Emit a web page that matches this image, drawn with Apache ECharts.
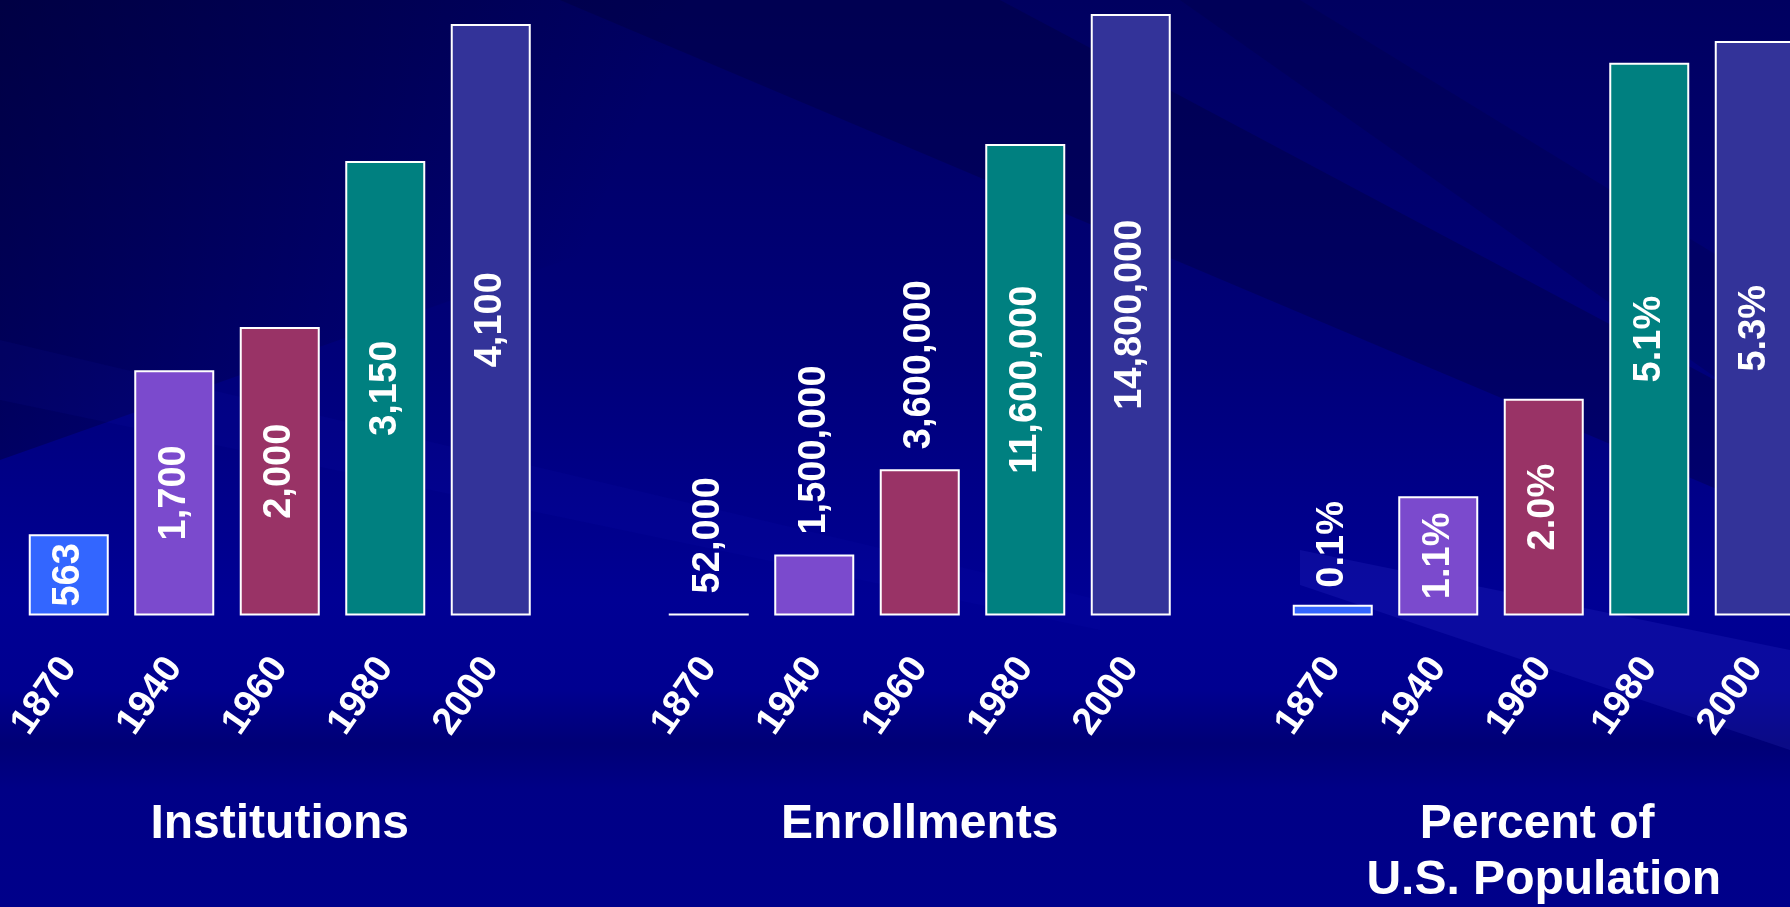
<!DOCTYPE html>
<html>
<head>
<meta charset="utf-8">
<title>Higher education 1870-2000</title>
<script src="https://cdn.jsdelivr.net/npm/echarts@6/dist/echarts.min.js"></script>
<style>
  html, body { margin: 0; padding: 0; overflow: hidden; background: #000080; }
  #main { width: 1790px; height: 907px; }
</style>
</head>
<body>
<div id="main"></div>
<script>
var years = ['1870', '1940', '1960', '1980', '2000'];
var institutions = [563, 1700, 2000, 3150, 4100];
var enrollments = [52000, 1500000, 3600000, 11600000, 14800000];
var percentOfPop = [0.1, 1.1, 2.0, 5.1, 5.3];
var panelTitles = ['Institutions', 'Enrollments', 'Percent of \nU.S. Population'];

var yearColors = ['#3366FF', '#7B4ACD', '#993366', '#008080', '#333399'];
// bars whose value label sits above the bar instead of inside it
var labelsAbove = [[], [0, 1, 2], [0]];

var font = '"Liberation Sans", Arial, sans-serif';
var baseY = 615.5;
var panelWidth = 527.5;

var panels = [
  { values: institutions, left: 16, top: 24, gap: 20,
    fmt: function (v) { return v.toLocaleString('en-US'); } },
  { values: enrollments, left: 656, top: 14, gap: 20,
    fmt: function (v) { return v.toLocaleString('en-US'); } },
  { values: percentOfPop, left: 1280, top: 41, gap: 17,
    fmt: function (v) { return v.toFixed(1) + '%'; } }
];

var myChart = echarts.init(document.getElementById('main'));

myChart.setOption({
  backgroundColor: '#000080',
  animation: false,
  graphic: {
    elements: [
      {
        type: 'rect', z: -10, silent: true,
        shape: { x: 0, y: 0, width: 1790, height: 907 },
        style: {
          fill: {
            type: 'linear', x: 0, y: 0, x2: 0, y2: 1,
            colorStops: [
              { offset: 0, color: '#000060' },
              { offset: 0.4, color: '#00007a' },
              { offset: 0.66, color: '#000094' },
              { offset: 0.76, color: '#000090' },
              { offset: 0.82, color: '#000076' },
              { offset: 0.87, color: '#000086' },
              { offset: 1, color: '#00008a' }
            ]
          }
        }
      },
      {
        type: 'polygon', z: -9, silent: true,
        shape: { points: [[0, 0], [1300, 0], [0, 460]] },
        style: {
          fill: {
            type: 'linear', x: 0, y: 0, x2: 0.45, y2: 0.55,
            colorStops: [
              { offset: 0, color: 'rgba(0,0,40,0.5)' },
              { offset: 1, color: 'rgba(0,0,40,0)' }
            ]
          }
        }
      },
      {
        type: 'polygon', z: -9, silent: true,
        shape: { points: [[560, 0], [1000, 0], [1790, 420], [1790, 520]] },
        style: { fill: 'rgba(0,0,50,0.3)' }
      },
      {
        type: 'polygon', z: -9, silent: true,
        shape: { points: [[1180, 0], [1300, 0], [1790, 300], [1790, 430]] },
        style: { fill: 'rgba(0,0,60,0.22)' }
      },
      {
        type: 'polygon', z: -9, silent: true,
        shape: { points: [[0, 340], [0, 400], [1100, 630], [1100, 600]] },
        style: { fill: 'rgba(20,20,200,0.08)' }
      },
      {
        type: 'polygon', z: -9, silent: true,
        shape: { points: [[1300, 550], [1790, 650], [1790, 750], [1300, 585]] },
        style: { fill: 'rgba(90,90,255,0.12)' }
      }
    ]
  },
  title: panels.map(function (p, i) {
    return {
      text: panelTitles[i],
      left: p.left + panelWidth / 2,
      top: 797,
      textAlign: 'center',
      padding: 0,
      textStyle: {
        color: '#ffffff', fontSize: 48, fontWeight: 'bold',
        fontFamily: font, lineHeight: 56
      }
    };
  }),
  grid: panels.map(function (p) {
    return {
      left: p.left, top: p.top, width: panelWidth, height: baseY - p.top,
      outerBoundsMode: 'none', containLabel: false
    };
  }),
  xAxis: panels.map(function (p, i) {
    return {
      type: 'category', gridIndex: i, data: years,
      axisLine: { show: false }, axisTick: { show: false },
      axisLabel: {
        interval: 0, rotate: 55, margin: 46, color: '#ffffff',
        fontSize: 38, fontWeight: 'bold', fontFamily: font
      }
    };
  }),
  yAxis: panels.map(function (p, i) {
    return { type: 'value', gridIndex: i, min: 0, max: 'dataMax', show: false };
  }),
  series: panels.map(function (p, i) {
    return {
      type: 'bar', xAxisIndex: i, yAxisIndex: i, barWidth: 80,
      itemStyle: { borderColor: '#ffffff', borderWidth: 2 },
      label: {
        show: true, rotate: 90, color: '#ffffff', fontSize: 38,
        fontWeight: 'bold', fontFamily: font, textBorderWidth: 0,
        formatter: function (d) { return p.fmt(d.value); }
      },
      data: p.values.map(function (v, j) {
        var above = labelsAbove[i].indexOf(j) >= 0;
        return {
          value: v,
          itemStyle: { color: yearColors[j] },
          label: above
            ? { position: 'top', align: 'left', verticalAlign: 'middle', distance: p.gap }
            : { position: 'inside' }
        };
      })
    };
  })
});
</script>
</body>
</html>
